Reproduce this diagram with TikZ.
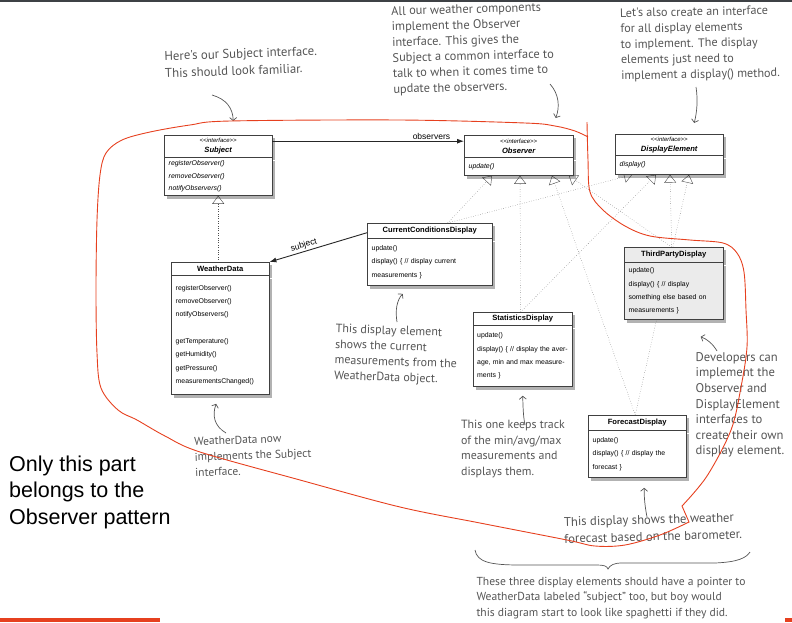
\documentclass[tikz,border=0pt]{standalone}
\usepackage{fontspec}
\usepackage{tikz}
\usetikzlibrary{arrows.meta, positioning, calc, shadows, backgrounds}
\newfontfamily\umlfont{Liberation Sans}
\newfontfamily\handfont{PT Sans}
\definecolor{loopred}{HTML}{E6401F}
\definecolor{notegray}{HTML}{555555}
\definecolor{topbar}{HTML}{3E4145}

\begin{document}
\begin{tikzpicture}[x=1pt, y=-1pt,
    boxshadow/.style={drop shadow={shadow xshift=3pt, shadow yshift=-3pt, opacity=.3, fill=black}},
    hdr/.style={draw=black!75, fill=white, boxshadow, anchor=north west, inner sep=0pt,
        text width=#1, align=center, font=\umlfont\fontsize{7.6}{10}\selectfont\bfseries},
    bdy/.style={draw=black!75, fill=white, boxshadow, inner xsep=4.5pt, inner ysep=0pt,
        text width=#1, align=left, font=\umlfont\fontsize{6.9}{13.3}\selectfont},
    ifbdy/.style={font=\umlfont\fontsize{6.9}{12.6}\selectfont\itshape},
    impl/.style={dotted, draw=black!70, -{Triangle[open, length=8pt, width=12pt, fill=white]}},
    assoc/.style={draw=black!85, line width=0.9pt, -{Latex[length=7pt, width=5pt]}},
    rolename/.style={font=\umlfont\fontsize{8.5}{10}\selectfont, inner sep=1.5pt},
    hand/.style={font=\handfont\fontsize{#1}{15.6}\selectfont, text=notegray, align=left, inner sep=0pt},
    hand/.default=12,
    hint/.style={draw=notegray, line width=0.7pt, -{Straight Barb[length=3pt, width=7pt]}},
    redloop/.style={draw=loopred, line width=0.9pt}]
\useasboundingbox (0,0) rectangle (792,622);
\fill[topbar] (0,0) rectangle (792,2);

% Interfaces
\node[hdr=108, minimum height=22pt] (subj) at (164,135)
    {{\fontsize{6}{10}\selectfont\mdseries\itshape \textless\textless interface\textgreater\textgreater}\\\itshape Subject};
\node[bdy=99, ifbdy, minimum height=38pt, below=0pt of subj] (subjb)
    {registerObserver()\\removeObserver()\\notifyObservers()};
\node[hdr=109, minimum height=22pt] (obs) at (464,135)
    {{\fontsize{6}{10}\selectfont\mdseries\itshape \textless\textless interface\textgreater\textgreater}\\\itshape Observer};
\node[bdy=100, ifbdy, minimum height=18pt, below=0pt of obs] (obsb) {update()};
\node[hdr=108, minimum height=21pt] (disp) at (615,134)
    {{\fontsize{6}{10}\selectfont\mdseries\itshape \textless\textless interface\textgreater\textgreater}\\\itshape DisplayElement};
\node[bdy=99, ifbdy, minimum height=19pt, below=0pt of disp] (dispb) {display()};

% Classes
\node[hdr=98, minimum height=13pt] (wdata) at (171,262) {WeatherData};
\node[bdy=89, minimum height=119pt, below=0pt of wdata] (wdatab)
    {registerObserver()\\removeObserver()\\notifyObservers()\\[13.3pt]getTemperature()\\getHumidity()\\getPressure()\\measurementsChanged()};
\node[hdr=125, minimum height=15pt] (ccd) at (367,223) {CurrentConditionsDisplay};
\node[bdy=116, minimum height=47pt, below=0pt of ccd] (ccdb)
    {update()\\display() \{ // display current\\measurements \}};
\node[hdr=99, minimum height=13pt] (stat) at (473,312) {StatisticsDisplay};
\node[bdy=95, inner xsep=2pt, minimum height=61pt, below=0pt of stat] (statb)
    {\hspace*{2pt}update()\\\hspace*{2pt}display() \{ // display the aver-\\\hspace*{2pt}age, min and max measure-\\\hspace*{2pt}ments \}};
\node[hdr=99, minimum height=15pt, fill=black!8] (third) at (624,247) {ThirdPartyDisplay};
\node[bdy=90, minimum height=57pt, below=0pt of third, fill=black!8] (thirdb)
    {update()\\display() \{ // display\\something else based on\\measurements \}};
\node[hdr=98, minimum height=15pt] (fore) at (588,415) {ForecastDisplay};
\node[bdy=89, minimum height=47pt, below=0pt of fore] (foreb)
    {update()\\display() \{ // display the\\forecast \}};

% Implements (dotted, behind the boxes)
\begin{scope}[on background layer]
    \coordinate (o1) at ($(obsb.south west)+(28,0)$);
    \coordinate (o2) at ($(obsb.south west)+(56,0)$);
    \coordinate (o3) at ($(obsb.south west)+(88,0)$);
    \coordinate (o4) at ($(obsb.south west)+(105,0)$);
    \coordinate (d1) at ($(dispb.south west)+(17,0)$);
    \coordinate (d2) at ($(dispb.south west)+(41,0)$);
    \coordinate (d3) at ($(dispb.south west)+(55,0)$);
    \coordinate (d4) at ($(dispb.south west)+(74,0)$);
    \draw[impl] (wdata.north -| subjb.south) -- (subjb.south);
    \draw[impl] ($(ccd.north)+(18,0)$) -- (o1);
    \draw[impl] ($(ccd.north)+(18,0)$) -- (d1);
    \draw[impl] ($(stat.north)+(-2,0)$) -- (o2);
    \draw[impl] ($(stat.north)+(-2,0)$) -- (d2);
    \draw[impl] ($(fore.north)+(-2,0)$) -- (o3);
    \draw[impl] ($(fore.north)+(-2,0)$) -- (d4);
    \draw[impl] ($(third.north)+(-2,0)$) -- (o4);
    \draw[impl] ($(third.north)+(-2,0)$) -- (d3);
\end{scope}

% Associations
\draw[assoc] ([yshift=5pt]subj.east) -- ([yshift=5pt]obs.west)
    node[pos=0.83, above, rolename] (lblobs) {observers};
\draw[assoc] ([yshift=-2pt]ccd.west) -- (wdata.north east)
    node[pos=0.63, sloped, above, rolename] (lblsubj) {subject};

% Hand-written notes
\node[hand, font=\handfont\fontsize{12.8}{17}\selectfont, rotate=2] (note1) at (241,62) {Here's our Subject interface.\\This should look familiar.};
\node[hand=12.4, rotate=1.5] (note2) at (473,49) {All our weather components\\implement the Observer\\interface. This gives the\\Subject a common interface to\\talk to when it comes time to\\update the observers.};
\node[hand=12.2, rotate=1] (note3) at (700,44) {Let's also create an interface\\for all display elements\\to implement. The display\\elements just need to\\implement a display() method.};
\node[hand=12, rotate=-2] (note4) at (396,355) {This display element\\shows the current\\measurements from the\\WeatherData object.};
\node[hand=11.5, rotate=2] (note5) at (253,455) {WeatherData now\\implements the Subject\\interface.};
\node[hand=11.9] (note6) at (513,449) {This one keeps track\\of the min/avg/max\\measurements and\\displays them.};
\node[hand=12.6] (note7) at (740,405) {Developers can\\implement the\\Observer and\\DisplayElement\\interfaces to\\create their own\\display element.};
\node[hand, font=\handfont\fontsize{12.7}{17}\selectfont, rotate=1.5] (note8) at (653,528) {This display shows the weather\\forecast based on the barometer.};
\node[hand=11.6] (note9) at (611,598) {These three display elements should have a pointer to\\WeatherData labeled “subject” too, but boy would\\this diagram start to look like spaghetti if they did.};

\coordinate (t1) at (212,95);
\coordinate (t2) at (550,84);
\coordinate (t3) at (696,87);
\coordinate (t4) at (397,322);
\coordinate (t5) at (226,433);
\coordinate (t6) at (525,425);
\coordinate (t7) at (717,351);
\coordinate (t8) at (647,517);
\draw[hint] (t1) .. controls (226,99) and (233,108) .. ($(subj.north)+(15,-14)$);
\draw[hint] (t2) .. controls (559,94) and (560,107) .. ($(obs.north)+(37,-17)$);
\draw[hint] (t3) .. controls (698,100) and (697,112) .. ($(disp.north)+(25,-11)$);
\draw[hint] (t4) .. controls (395,310) and (397,300) .. ($(ccdb.south)+(-27,8)$);
\draw[hint] (t5) .. controls (214,426) and (212,415) .. ($(wdatab.south)+(-4,9)$);
\draw[hint] (t6) .. controls (523,415) and (523,405) .. ($(statb.south)+(0,9)$);
\draw[hint] (t7) .. controls (713,344) and (707,339) .. ($(thirdb.south)+(27,17)$);
\draw[hint] (t8) .. controls (645,507) and (644,497) .. ($(foreb.south)+(7,10)$);

% Brace over the last note
\draw[draw=notegray, line width=0.7pt] (475,550) .. controls (477,562) and (490,565) .. (520,565)
    -- (597,565) .. controls (604,565) and (607,566) .. (608,569)
    .. controls (610,565) and (614,563) .. (622,563) -- (715,563)
    .. controls (738,562) and (746,558) .. (750,552);

% Pattern part
\node[font=\umlfont\fontsize{21.5}{26.5}\selectfont, align=left, anchor=base west, inner sep=0pt] (patnote)
    at (9,524) {Only this part\\belongs to the\\Observer pattern};

% Red loop round the pattern part
\draw[redloop] plot[smooth, tension=0.55] coordinates {(587,122) (588,160) (590,192) (603,210) (625,226)
    (650,236) (690,240) (723,243) (737,253) (744,272) (746,310) (747,347) (741,387) (731,430)
    (707,476) (682,506)}
    -- plot[smooth, tension=0.55] coordinates {(689,522) (660,535) (625,545) (595,546) (567,540)
    (480,523) (400,507) (300,480) (200,452) (165,436) (137,420) (118,410) (101,388) (97,353)
    (96,290) (97,220) (100,175) (106,153) (122,140) (150,132) (190,125) (230,121) (400,120)
    (525,123) (555,126) (575,131) (588,137)};

\fill[loopred] (0,618) rectangle (160,622);
\fill[loopred] (785,618) rectangle (792,622);
\end{tikzpicture}
\end{document}
